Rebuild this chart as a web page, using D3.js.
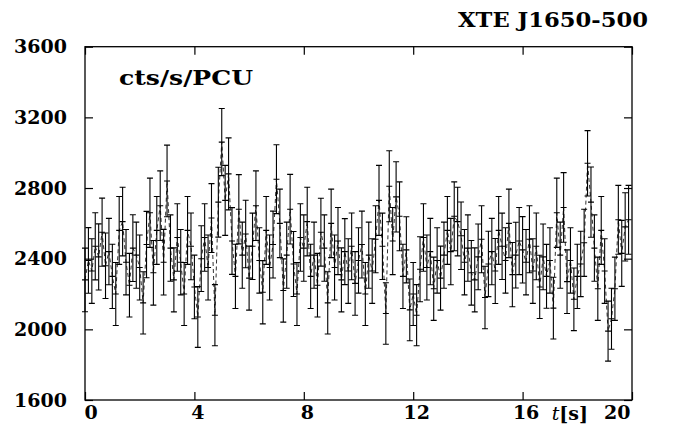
<!DOCTYPE html>
<html>
<head>
<meta charset="utf-8">
<script src="https://cdn.jsdelivr.net/npm/d3@7"></script>
<style>
  body { margin: 0; background: #fff; }
  text { font-family: "DejaVu Serif", serif; font-weight: bold; }
</style>
</head>
<body>
<div id="chart"></div>
<script>
// light curve, 0.125 s bins, count rate per PCU
var binWidth = 0.125
var rates = [
  2280, 2390, 2330, 2470, 2410, 2550, 2360, 2440,
  2300, 2200, 2560, 2610, 2380, 2250, 2460, 2420,
  2350, 2150, 2480, 2660, 2320, 2560, 2700, 2380,
  2840, 2460, 2280, 2520, 2380, 2200, 2560, 2470,
  2240, 2070, 2400, 2520, 2350, 2630, 2080, 2720,
  3060, 2730, 2880, 2500, 2300, 2680, 2420, 2540,
  2290, 2470, 2700, 2390, 2210, 2560, 2350, 2480,
  2850, 2600, 2220, 2420, 2680, 2370, 2200, 2520,
  2460, 2610, 2300, 2420, 2250, 2550, 2460, 2150,
  2600, 2350, 2500, 2280, 2440, 2330, 2470, 2260,
  2390, 2480, 2200, 2420, 2330, 2510, 2730, 2470,
  2090, 2810, 2500, 2750, 2640, 2300, 2450, 2110,
  2200, 2080, 2340, 2520, 2350, 2440, 2230, 2390,
  2290, 2420, 2560, 2440, 2640, 2610, 2530, 2380,
  2460, 2320, 2280, 2410, 2510, 2180, 2370, 2440,
  2330, 2560, 2470, 2390, 2600, 2310, 2420, 2500,
  2450, 2380, 2510, 2330, 2470, 2240, 2410, 2300,
  2390, 2120, 2660, 2420, 2690, 2270, 2390, 2170,
  2300, 2370, 2490, 2940, 2720, 2460, 2230, 2560,
  2330, 1990, 2060, 2230, 2620, 2430, 2580, 2620
]
var errors = [
  180, 186, 183, 190, 187, 193, 185, 188,
  182, 178, 192, 194, 185, 180, 189, 187,
  184, 176, 188, 196, 183, 192, 197, 186,
  203, 188, 181, 191, 185, 178, 192, 189,
  180, 172, 186, 191, 184, 195, 173, 198,
  190, 198, 204, 189, 182, 196, 187, 191,
  181, 188, 197, 185, 179, 192, 184, 189,
  195, 194, 179, 187, 197, 184, 178, 191,
  188, 194, 182, 187, 180, 192, 188, 176,
  194, 184, 190, 181, 187, 183, 189, 180,
  185, 189, 178, 187, 183, 190, 198, 188,
  174, 201, 190, 199, 195, 182, 187, 175,
  178, 173, 184, 191, 184, 188, 179, 185,
  181, 187, 192, 188, 195, 194, 191, 185,
  188, 183, 181, 186, 190, 177, 185, 188,
  184, 192, 188, 185, 194, 182, 186, 190,
  188, 185, 190, 183, 189, 179, 186, 181,
  185, 175, 196, 187, 197, 180, 185, 177,
  182, 185, 190, 185, 199, 188, 179, 192,
  183, 170, 173, 179, 195, 187, 193, 195
]
var xTicks = [0, 4, 8, 12, 16, 20]
var yTicks = [1600, 2000, 2400, 2800, 3200, 3600]

var data = rates.map(function(r, i) {
  return {t: i * binWidth, r: r, e: errors[i]}
})

var width = 676, height = 441

var svg = d3.select("#chart")
  .append("svg")
  .attr("width", width)
  .attr("height", height)

var x = d3.scaleLinear().domain([0, 20]).range([85, 632])
var y = d3.scaleLinear().domain([1600, 3600]).range([400, 46.7])

// connecting dashed line
var line = d3.line()
  .x(function(d) { return x(d.t) })
  .y(function(d) { return y(d.r) })

svg.append("path")
  .datum(data)
  .attr("d", line)
  .attr("fill", "none")
  .attr("stroke", "#333")
  .attr("stroke-width", 1)
  .attr("stroke-dasharray", "4,3")

// error bars with caps and point marks
var cap = 3
var bars = svg.append("g")
  .attr("stroke", "#000")
  .attr("stroke-width", 1.1)
  .attr("fill", "none")

bars.selectAll("path")
  .data(data)
  .enter()
  .append("path")
  .attr("d", function(d) {
    var cx = x(d.t), y0 = y(d.r - d.e), y1 = y(d.r + d.e), yc = y(d.r)
    return "M" + cx + "," + y0 + "V" + y1 +
      "M" + (cx - cap) + "," + y0 + "H" + (cx + cap) +
      "M" + (cx - cap) + "," + y1 + "H" + (cx + cap) +
      "M" + (cx - cap) + "," + yc + "H" + (cx + cap)
  })

// axes, ticks pointing inward
var axisStyle = function(g) {
  g.select(".domain").remove()
  g.selectAll("line").attr("stroke", "#000").attr("stroke-width", 1.2)
  g.selectAll("text").attr("font-size", 19).attr("fill", "#000")
    .attr("font-family", "DejaVu Serif").attr("font-weight", "bold")
}

svg.append("g")
  .attr("transform", "translate(85,0)")
  .call(d3.axisLeft(y).tickValues(yTicks).tickSize(-8).tickPadding(18).tickFormat(d3.format("d")))
  .call(axisStyle)

svg.append("g")
  .attr("transform", "translate(632,0)")
  .call(d3.axisRight(y).tickValues(yTicks).tickSize(-8).tickFormat(""))
  .call(axisStyle)

var xAxis = svg.append("g")
  .attr("transform", "translate(0,400)")
  .call(d3.axisBottom(x).tickValues(xTicks).tickSize(-8).tickPadding(6).tickFormat(d3.format("d")))
  .call(axisStyle)

xAxis.selectAll("text")
  .attr("text-anchor", function(d) { return d === 0 ? "start" : (d === 20 ? "end" : "middle") })
  .attr("dx", function(d) { return d === 0 ? -1 : (d === 20 ? -2 : 3) })

svg.append("g")
  .attr("transform", "translate(0,46.7)")
  .call(d3.axisTop(x).tickValues(xTicks).tickSize(-8).tickFormat(""))
  .call(axisStyle)

// frame
svg.append("rect")
  .attr("x", 85).attr("y", 46.7)
  .attr("width", 632 - 85).attr("height", 400 - 46.7)
  .attr("fill", "none")
  .attr("stroke", "#000")
  .attr("stroke-width", 1.3)

// labels
svg.append("text")
  .attr("x", 119).attr("y", 85)
  .attr("font-size", 21)
  .attr("textLength", 134)
  .attr("lengthAdjust", "spacingAndGlyphs")
  .text("cts/s/PCU")

svg.append("text")
  .attr("x", 458).attr("y", 27)
  .attr("font-size", 20)
  .attr("textLength", 190)
  .attr("lengthAdjust", "spacingAndGlyphs")
  .text("XTE J1650-500")

var xl = svg.append("text")
  .attr("x", 588).attr("y", 419.5)
  .attr("font-size", 19)
  .attr("text-anchor", "end")
xl.append("tspan").attr("font-style", "italic").attr("font-weight", "normal").text("t")
xl.append("tspan").text("[s]")
</script>
</body>
</html>
